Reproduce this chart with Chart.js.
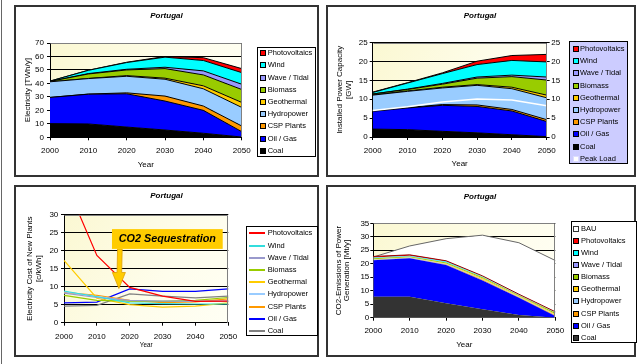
<!DOCTYPE html>
<html>
<head>
<meta charset="utf-8">
<script src="https://cdn.jsdelivr.net/npm/chart.js@4.4.1/dist/chart.umd.min.js"></script>
<style>
html,body{margin:0;padding:0;background:#fff;}
body{width:642px;height:364px;position:relative;overflow:hidden;font-family:"Liberation Sans",Arial,Helvetica,sans-serif;color:#000;}
.edge{position:absolute;left:1px;top:0;width:1px;height:364px;background:#666;}
.panel{position:absolute;box-sizing:border-box;border:2px solid #333;}
canvas{position:absolute;}
.ttl{position:absolute;font:italic bold 8px "Liberation Sans",Arial,sans-serif;line-height:1;transform:translate(-50%,-50%);white-space:nowrap;}
.legend{position:absolute;box-sizing:border-box;border:1px solid #000;background:#fff;}
.legend .it{position:absolute;left:0;width:100%;height:12px;}
.legend .tx{position:absolute;top:0;line-height:12px;font-size:7.5px;white-space:nowrap;}
.legend .sw{position:absolute;top:3px;box-sizing:border-box;width:6px;height:6px;border:1px solid #000;}
.legend .ln{position:absolute;top:5px;height:2px;}
</style>
</head>
<body>
<div class="edge"></div>

<canvas id="cGen" width="305" height="172" style="left:14px;top:5px"></canvas>
<canvas id="cCap" width="310" height="172" style="left:326px;top:5px"></canvas>
<canvas id="cCost" width="305" height="172" style="left:14px;top:185px"></canvas>
<canvas id="cCo2" width="310" height="172" style="left:326px;top:185px"></canvas>

<div class="panel" style="left:14px;top:5px;width:305px;height:172px"></div>
<div class="panel" style="left:326px;top:5px;width:310px;height:172px"></div>
<div class="panel" style="left:14px;top:185px;width:305px;height:172px"></div>
<div class="panel" style="left:326px;top:185px;width:310px;height:172px"></div>

<div class="ttl" style="left:166.5px;top:15.7px">Portugal</div>
<div class="ttl" style="left:480px;top:15.7px">Portugal</div>
<div class="ttl" style="left:166.5px;top:195.7px">Portugal</div>
<div class="ttl" style="left:480px;top:196.7px">Portugal</div>

<div id="lgGen" class="legend" style="left:256.7px;top:46.7px;width:59.3px;height:110px"></div>
<div id="lgCap" class="legend" style="left:569px;top:41px;width:59px;height:123px;background:#CCCCFF"></div>
<div id="lgCost" class="legend" style="left:245.7px;top:226px;width:72.3px;height:110px"></div>
<div id="lgCo2" class="legend" style="left:570.7px;top:221px;width:66.3px;height:122px"></div>

<script>
const FONT = '"Liberation Sans", Arial, Helvetica, sans-serif';
Chart.defaults.font.family = FONT;
Chart.defaults.color = '#000';

const years = ['2000', '2010', '2020', '2030', '2040', '2050'];

// Series names, bottom of the stack first
const techNames = ['Coal', 'Oil / Gas', 'CSP Plants', 'Hydropower', 'Geothermal',
                   'Biomass', 'Wave / Tidal', 'Wind', 'Photovoltaics'];
const techColors = ['#000000', '#0000FF', '#FF9900', '#99CCFF', '#FFCC00',
                    '#99CC00', '#9999FF', '#00FFFF', '#FF0000'];
const costColors = ['#808080', '#0000FF', '#FF9900', '#99CCFF', '#FFCC00',
                    '#99CC00', '#9999CC', '#33DDDD', '#FF0000'];
const co2Colors  = ['#333333', '#0000FF', '#FF9900', '#99CCFF', '#FFCC00',
                    '#99CC00', '#9999FF', '#00FFFF', '#FF0000'];

// Electricity generation [TWh/y]
const genCoal  = [10.1, 9.9, 7.6, 5.4, 3.0, 0.2];
const genOil   = [19.5, 22.1, 24.7, 21.5, 17.0, 4.0];
const genCsp   = [0.0, 0.1, 0.7, 3.7, 3.2, 4.2];
const genHydro = [11.6, 11.5, 12.3, 12.5, 12.8, 13.8];
const genGeo   = [0.0, 0.1, 0.5, 0.8, 2.2, 3.7];
const genBio   = [0.3, 3.3, 4.2, 7.1, 8.1, 9.6];
const genWave  = [0.0, 0.3, 0.5, 1.0, 3.0, 3.9];
const genWind  = [0.2, 2.4, 5.0, 7.5, 7.7, 8.6];
const genPv    = [0.0, 0.1, 0.2, 0.5, 2.1, 3.0];

// Installed capacity [GW]
const capCoal  = [2.1, 1.95, 1.5, 1.1, 0.6, 0.1];
const capOil   = [4.7, 5.75, 6.9, 7.0, 6.3, 4.0];
const capCsp   = [0.0, 0.1, 0.2, 0.4, 0.4, 0.5];
const capHydro = [4.3, 4.3, 4.4, 5.2, 5.5, 5.8];
const capGeo   = [0.05, 0.1, 0.2, 0.2, 0.4, 0.7];
const capBio   = [0.25, 0.4, 0.8, 1.7, 2.8, 4.0];
const capWave  = [0.0, 0.1, 0.2, 0.3, 0.4, 0.8];
const capWind  = [0.4, 1.6, 2.6, 3.3, 3.9, 4.0];
const capPv    = [0.1, 0.1, 0.2, 0.9, 1.3, 2.0];
const peakLoad = [7.0, 8.0, 9.3, 10.1, 9.8, 8.3];

// Electricity cost of new plants [c/kWh]
const costCoal  = [4.6, 4.8, 8.0, 7.4, 6.9, 7.4];
const costOil   = [5.5, 5.7, 9.4, 8.7, 8.7, 9.4];
const costCsp   = [8.4, 7.6, 6.2, 5.6, 5.8, 6.6];
const costHydro = [8.6, 7.3, 6.0, 5.9, 5.9, 5.9];
const costGeo   = [17.3, 6.8, 5.0, 4.3, 4.6, 5.5];
const costBio   = [7.6, 6.2, 6.0, 5.9, 6.2, 7.0];
const costWave  = [8.2, 7.0, 6.2, 6.0, 6.0, 6.0];
const costWind  = [8.8, 7.2, 5.5, 5.3, 5.2, 5.2];
const costPv    = [40.0, 18.7, 9.8, 7.4, 5.9, 6.0];

// CO2 emissions of power generation [Mt/y]
const emBau   = [22.5, 26.6, 29.3, 30.6, 27.8, 21.2];
const emCoal  = [7.8, 7.8, 5.4, 3.1, 1.0, 0.0];
const emOil   = [13.5, 14.2, 14.1, 10.7, 6.4, 0.6];
const emCsp   = [0.1, 0.1, 0.2, 0.3, 0.2, 0.3];
const emHydro = [0.2, 0.2, 0.2, 0.2, 0.2, 0.2];
const emGeo   = [0.1, 0.1, 0.2, 0.3, 0.2, 0.3];
const emBio   = [0.3, 0.3, 0.4, 0.4, 0.3, 0.4];
const emWave  = [0.1, 0.1, 0.1, 0.1, 0.1, 0.1];
const emWind  = [0.2, 0.2, 0.2, 0.2, 0.1, 0.1];
const emPv    = [0.4, 0.3, 0.3, 0.2, 0.2, 0.2];

const genSeries  = [genCoal, genOil, genCsp, genHydro, genGeo, genBio, genWave, genWind, genPv];
const capSeries  = [capCoal, capOil, capCsp, capHydro, capGeo, capBio, capWave, capWind, capPv];
const costSeries = [costCoal, costOil, costCsp, costHydro, costGeo, costBio, costWave, costWind, costPv];
const co2Series  = [emCoal, emOil, emCsp, emHydro, emGeo, emBio, emWave, emWind, emPv];

// ---------- shared drawing helpers ----------
const plotBg = {
  id: 'plotBg',
  beforeDraw(chart) {
    const {ctx, chartArea: a} = chart;
    const g = ctx.createLinearGradient(a.left, a.top, a.right, a.bottom);
    g.addColorStop(0, '#FBF8D2');
    g.addColorStop(0.6, '#FEFDEC');
    g.addColorStop(1, '#FFFFF4');
    ctx.save();
    ctx.fillStyle = g;
    ctx.fillRect(a.left, a.top, a.right - a.left, a.bottom - a.top);
    ctx.restore();
  },
  afterDatasetsDraw(chart) {
    const {ctx, chartArea: a} = chart;
    ctx.save();
    ctx.strokeStyle = '#808080';
    ctx.lineWidth = 1;
    ctx.beginPath();
    ctx.moveTo(Math.round(a.left) + 0.5, Math.round(a.top) + 0.5);
    ctx.lineTo(Math.round(a.right) - 0.5, Math.round(a.top) + 0.5);
    ctx.lineTo(Math.round(a.right) - 0.5, Math.round(a.bottom));
    ctx.stroke();
    ctx.restore();
  }
};

function xAxis(o) {
  return {
    type: 'category', offset: false,
    grid: {drawOnChartArea: false, drawTicks: true, tickLength: 3, color: '#000'},
    border: {color: '#000', width: 1},
    ticks: {color: '#000', font: {size: 8}, padding: o.pad, maxRotation: 0, autoSkip: false},
    title: {display: true, text: 'Year', color: '#000',
            font: {size: o.tsize || 8, lineHeight: 1.2}, padding: {top: 0, bottom: o.tpb}},
    afterFit(s) { s.height = o.h; }
  };
}

function yAxis(o) {
  return {
    type: 'linear', position: o.pos || 'left', min: 0, max: o.max,
    stacked: !!o.stacked,
    grid: {drawOnChartArea: o.grid !== false, color: '#000', lineWidth: 1, drawTicks: true, tickLength: 3},
    border: {color: '#000', width: 1},
    ticks: {stepSize: o.step, color: '#000', font: {size: 8}, padding: o.pad},
    title: {display: !!o.title, text: o.title, color: '#000',
            font: {size: 8, lineHeight: o.lh || 1.15}, padding: {top: o.tpt || 0, bottom: 0}},
    afterFit(s) { s.width = o.w; }
  };
}

function baseOptions(pad, scales) {
  return {
    responsive: false, animation: false, devicePixelRatio: 1,
    layout: {padding: pad, autoPadding: false},
    plugins: {legend: {display: false}, tooltip: {enabled: false}, title: {display: false}},
    elements: {point: {radius: 0, hoverRadius: 0}, line: {tension: 0}},
    scales
  };
}

function stackedSets(series, colors, border, borderW) {
  return series.map((data, i) => ({
    label: techNames[i], data,
    backgroundColor: colors[i],
    borderColor: border ? border[i] : '#000',
    borderWidth: borderW,
    fill: i === 0 ? 'origin' : '-1',
    stack: 'mix', yAxisID: 'y', pointRadius: 0
  }));
}

// ---------- Electricity generation ----------
new Chart(document.getElementById('cGen'), {
  type: 'line',
  data: {labels: years, datasets: stackedSets(genSeries, techColors, null, 1)},
  options: baseOptions({left: 6, right: 77.3, top: 38, bottom: 4.7}, {
    x: xAxis({h: 35, pad: 5.6, tpb: 3.2}),
    y: yAxis({max: 70, step: 10, stacked: true, w: 30, pad: 3, tpt: 2.5,
              title: 'Electricity [TWh/y]', lh: 1.2})
  }),
  plugins: [plotBg]
});

// ---------- Installed capacity ----------
const capSets = stackedSets(capSeries, techColors, null, 1);
capSets.push({label: 'Peak Load', data: peakLoad, yAxisID: 'y1', fill: false, order: -1,
              borderColor: '#FFFFFF', borderWidth: 1.5, pointRadius: 0});
new Chart(document.getElementById('cCap'), {
  type: 'line',
  data: {labels: years, datasets: capSets},
  options: baseOptions({left: 6.7, right: 69.3, top: 37.7, bottom: 5}, {
    x: xAxis({h: 35, pad: 5.9, tpb: 3.2}),
    y: yAxis({max: 25, step: 5, stacked: true, w: 40, pad: 2, tpt: 2.7,
              title: ['Installed Power Capacity', '[GW]']}),
    y1: yAxis({pos: 'right', max: 25, step: 5, w: 20, pad: 1.5, grid: false})
  }),
  plugins: [plotBg]
});

// ---------- Cost of new plants ----------
const costSets = costSeries.map((data, i) => ({
  label: techNames[i], data, borderColor: costColors[i], backgroundColor: costColors[i],
  borderWidth: 1.2, fill: false, pointRadius: 0
})).reverse();

// CO2 sequestration callout, placed in axis units (year, c/kWh)
const seqNote = {text: 'CO2 Sequestration', x0: 2014.6, x1: 2048.3, y0: 20.5, y1: 26.0,
                 tipYear: 2016.7, tipValue: 9.5};
const seqCallout = {
  id: 'seqCallout',
  afterDatasetsDraw(chart) {
    const {ctx} = chart;
    const xs = chart.scales.x, ys = chart.scales.y;
    const px = yr => xs.getPixelForValue((yr - 2000) / 10);
    const py = v => ys.getPixelForValue(v);
    const tipX = px(seqNote.tipYear), tipY = py(seqNote.tipValue);
    const baseY = py(seqNote.y0);
    const headLen = 16, headHalf = 6.5, shaftHalf = 2.3;
    ctx.save();
    ctx.fillStyle = '#FFCC00';
    ctx.strokeStyle = '#E0A000';
    ctx.lineWidth = 0.8;
    ctx.beginPath();
    ctx.moveTo(tipX - shaftHalf + 1, baseY);
    ctx.lineTo(tipX - shaftHalf + 0.5, tipY - headLen);
    ctx.lineTo(tipX - headHalf, tipY - headLen);
    ctx.lineTo(tipX, tipY);
    ctx.lineTo(tipX + headHalf, tipY - headLen);
    ctx.lineTo(tipX + shaftHalf + 0.5, tipY - headLen);
    ctx.lineTo(tipX + shaftHalf + 1, baseY);
    ctx.closePath();
    ctx.fill();
    ctx.stroke();
    const bx0 = px(seqNote.x0), bx1 = px(seqNote.x1);
    const by0 = py(seqNote.y1), by1 = py(seqNote.y0);
    ctx.fillStyle = '#FFCC00';
    ctx.fillRect(bx0, by0, bx1 - bx0, by1 - by0);
    ctx.fillStyle = '#000';
    ctx.font = 'italic bold 10.8px ' + FONT;
    ctx.textAlign = 'center';
    ctx.textBaseline = 'middle';
    ctx.fillText(seqNote.text, (bx0 + bx1) / 2, (by0 + by1) / 2 + 0.5);
    ctx.restore();
  }
};

new Chart(document.getElementById('cCost'), {
  type: 'line',
  data: {labels: years, datasets: costSets},
  options: baseOptions({left: 6, right: 90.7, top: 29.7, bottom: 4.3}, {
    x: xAxis({h: 30, pad: 6.2, tpb: 3.2, tsize: 6.3}),
    y: yAxis({max: 30, step: 5, w: 44, pad: 2.7, tpt: 5.6, lh: 1.1,
              title: ['Electricity Cost of New Plants', '[c/kWh]']})
  }),
  plugins: [plotBg, seqCallout]
});

// ---------- CO2 emissions ----------
const co2Border = co2Colors.map(() => 'rgba(0,0,0,0)');
co2Border[8] = '#990000';
const co2Sets = stackedSets(co2Series, co2Colors, co2Border, 1);
co2Sets.unshift({label: 'BAU', data: emBau, backgroundColor: '#FFFFFF', borderColor: '#666666',
                 borderWidth: 1, fill: 'origin', stack: 'bau', order: 1, yAxisID: 'y', pointRadius: 0});
co2Sets.forEach((d, i) => { if (i > 0) d.fill = (i === 1) ? 'origin' : '-1'; });
new Chart(document.getElementById('cCo2'), {
  type: 'line',
  data: {labels: years, datasets: co2Sets},
  options: baseOptions({left: 5.3, right: 80.7, top: 38.3, bottom: 4.3}, {
    x: xAxis({h: 35, pad: 5.2, tpb: 2.9}),
    y: yAxis({max: 35, step: 5, stacked: true, w: 42, pad: 1, tpt: 3.3, lh: 1.05,
              title: ['CO2-Emissions of Power', 'Generation [Mt/y]']})
  }),
  plugins: [plotBg]
});

// ---------- legends ----------
function buildLegend(id, items, first, step, markX, textX, lineLen) {
  const box = document.getElementById(id);
  items.forEach((it, i) => {
    const row = document.createElement('div');
    row.className = 'it';
    row.style.top = (first + i * step - 6) + 'px';
    const mark = document.createElement('div');
    if (it.line) {
      mark.className = 'ln';
      mark.style.width = lineLen + 'px';
      mark.style.background = it.color;
    } else {
      mark.className = 'sw';
      mark.style.background = it.color;
      if (it.edge) mark.style.borderColor = it.edge;
    }
    mark.style.left = markX + 'px';
    const tx = document.createElement('span');
    tx.className = 'tx';
    tx.style.left = textX + 'px';
    tx.textContent = it.name;
    row.appendChild(mark);
    row.appendChild(tx);
    box.appendChild(row);
  });
}
const topDown = arr => arr.map((c, i) => ({name: techNames[i], color: c})).reverse();

buildLegend('lgGen', topDown(techColors), 5.6, 12.2, 2.6, 10, 0);
const capItems = topDown(techColors);
capItems.push({name: 'Peak Load', color: '#FFFFFF', edge: '#DDDDFF'});
buildLegend('lgCap', capItems, 7, 12.2, 3.3, 10, 0);
buildLegend('lgCost', topDown(costColors).map(o => ({...o, line: true})), 6.3, 12.2, 2.6, 21, 15.7);
const co2Items = topDown(co2Colors);
co2Items.unshift({name: 'BAU', color: '#FFFFFF', edge: '#333333'});
buildLegend('lgCo2', co2Items, 7, 12.08, 1.6, 9.3, 0);
</script>
</body>
</html>
